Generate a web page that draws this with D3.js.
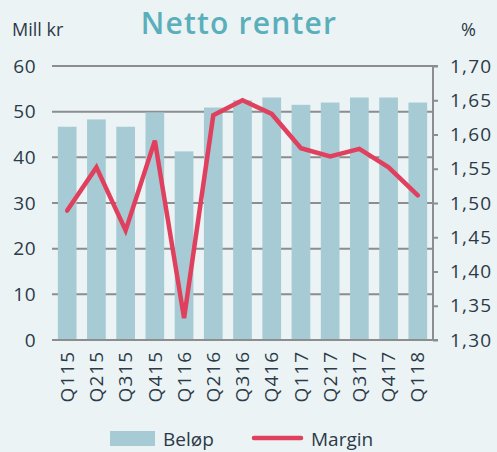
<!DOCTYPE html>
<html>
<head>
<meta charset="utf-8">
<script src="https://cdn.jsdelivr.net/npm/d3@7"></script>
<style>
  html, body { margin: 0; padding: 0; background: #ebf3f5; }
  svg { display: block; font-family: "Open Sans", sans-serif; }
</style>
</head>
<body>
<div id="chart"></div>
<script>
const quarters = ["Q115","Q215","Q315","Q415","Q116","Q216","Q316","Q416","Q117","Q217","Q317","Q417","Q118"];
const belop = [46.7, 48.3, 46.7, 49.8, 41.3, 50.9, 52.5, 53.1, 51.5, 52.0, 53.1, 53.1, 52.0];
const margin = [1.489, 1.552, 1.460, 1.591, 1.332, 1.628, 1.650, 1.630, 1.580, 1.568, 1.579, 1.552, 1.511];
const leftTicks = [0, 10, 20, 30, 40, 50, 60];
const rightTicks = [1.30, 1.35, 1.40, 1.45, 1.50, 1.55, 1.60, 1.65, 1.70];

const createChart = () => {
    const w = 497, h = 452;
    const left = 52, right = 433, top = 66, bottom = 340;
    const txt = "#2b3a47";
    const svg = d3.select("#chart").append("svg").attr("width", w).attr("height", h);

    svg.append("rect").attr("width", w).attr("height", h).attr("fill", "#ebf3f5");

    const x = d3.scaleBand().domain(quarters).range([left, right]).paddingInner(0.36).paddingOuter(0.2);
    const yL = d3.scaleLinear().domain([0, 60]).range([bottom, top]);
    const yR = d3.scaleLinear().domain([1.30, 1.70]).range([bottom, top]);

    // rutenett
    svg.append("g").selectAll("line")
        .data(leftTicks)
        .join("line")
        .attr("x1", left).attr("x2", right)
        .attr("y1", d => yL(d)).attr("y2", d => yL(d))
        .attr("stroke", "#8b8d8f")
        .attr("stroke-width", 2);

    // søyler
    svg.append("g").selectAll("rect")
        .data(quarters)
        .join("rect")
        .attr("x", d => x(d))
        .attr("width", x.bandwidth())
        .attr("y", (d, i) => yL(belop[i]))
        .attr("height", (d, i) => yL(0) - yL(belop[i]))
        .attr("fill", "#a6cbd4");

    // nullinje over søylene
    svg.append("line")
        .attr("x1", left).attr("x2", right)
        .attr("y1", yL(0)).attr("y2", yL(0))
        .attr("stroke", "#8b8d8f").attr("stroke-width", 2);

    // venstre akse
    const axL = svg.append("g")
        .attr("transform", `translate(${left},0)`)
        .call(d3.axisLeft(yL).tickValues(leftTicks).tickSize(0).tickPadding(16));
    axL.select(".domain").remove();
    axL.selectAll("text").attr("font-size", 19).attr("fill", txt).attr("font-family", "Open Sans")
        .attr("letter-spacing", 0.5);

    // høyre akse
    const axR = svg.append("g")
        .attr("transform", `translate(${right},0)`)
        .call(d3.axisRight(yR).tickValues(rightTicks).tickSize(5).tickPadding(12)
            .tickFormat(d => d3.format(".2f")(d).replace(".", ",")));
    axR.select(".domain").attr("stroke", "#8b8d8f").attr("stroke-width", 2).attr("d", `M5,${bottom}H0V${top}H5`);
    axR.selectAll(".tick line").attr("stroke", "#8b8d8f").attr("stroke-width", 2);
    axR.selectAll("text").attr("font-size", 19).attr("fill", txt).attr("font-family", "Open Sans")
        .attr("letter-spacing", 1.2).attr("x", 17);

    // x-akse
    const axX = svg.append("g")
        .attr("transform", `translate(0,${bottom})`)
        .call(d3.axisBottom(x).tickSize(0));
    axX.select(".domain").remove();
    axX.selectAll("text")
        .attr("font-size", 19).attr("fill", txt).attr("font-family", "Open Sans")
        .attr("letter-spacing", 1)
        .attr("transform", "rotate(-90)")
        .attr("text-anchor", "end")
        .attr("x", -11).attr("y", 0).attr("dy", "0.35em");

    // linje
    const line = d3.line()
        .x((d, i) => x(quarters[i]) + x.bandwidth() / 2)
        .y(d => yR(d));
    svg.append("path")
        .datum(margin)
        .attr("fill", "none")
        .attr("stroke", "#e0405d")
        .attr("stroke-width", 4.5)
        .attr("stroke-linejoin", "miter")
        .attr("stroke-linecap", "round")
        .attr("d", line);

    // titler
    svg.append("text").attr("x", 239).attr("y", 34).attr("text-anchor", "middle")
        .attr("font-size", 30).attr("font-weight", 600).attr("letter-spacing", 1.2)
        .attr("fill", "#5aafbb").text("Netto renter");
    svg.append("text").attr("x", 12).attr("y", 36)
        .attr("font-size", 18).attr("fill", txt).text("Mill kr");
    svg.append("text").attr("x", 461).attr("y", 36)
        .attr("font-size", 18).attr("fill", txt).text("%");

    // forklaring
    const leg = svg.append("g");
    leg.append("rect").attr("x", 110).attr("y", 431).attr("width", 45).attr("height", 15).attr("fill", "#a6cbd4");
    leg.append("text").attr("x", 163).attr("y", 446).attr("font-size", 19).attr("fill", txt).text("Beløp");
    leg.append("line").attr("x1", 254).attr("x2", 301).attr("y1", 438).attr("y2", 438)
        .attr("stroke", "#e0405d").attr("stroke-width", 4.5).attr("stroke-linecap", "round");
    leg.append("text").attr("x", 311).attr("y", 446).attr("font-size", 19).attr("fill", txt).text("Margin");
};

createChart();
</script>
</body>
</html>
